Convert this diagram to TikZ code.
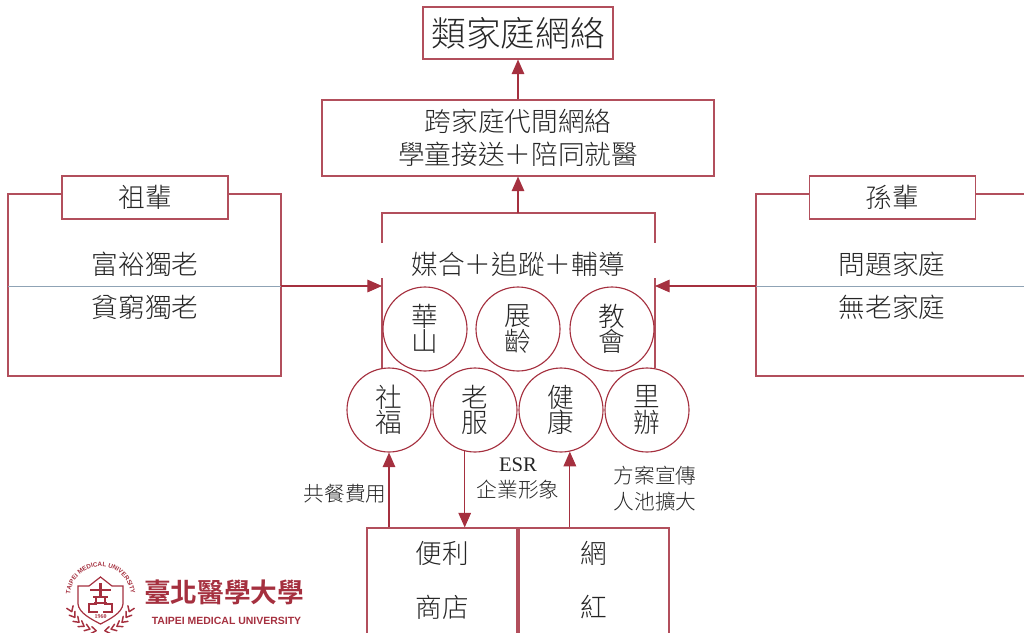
\documentclass[tikz,border=0pt]{standalone}
\usepackage{fontspec}
\usepackage{tikz}
\usetikzlibrary{arrows.meta,decorations.text}
\setmainfont{Noto Sans CJK TC Light}
\newfontfamily\latinfont{Liberation Serif}
\newfontfamily\logofont{Liberation Sans}
\newfontfamily\logocjk{Noto Sans CJK TC Bold}
\definecolor{tmured}{HTML}{A5303F}
\definecolor{rulegray}{HTML}{8FA3B5}
\definecolor{inkgray}{HTML}{262626}

\begin{document}
\begin{tikzpicture}[x=0.75pt, y=-0.75pt,
		box_style/.style={rectangle,draw=tmured!85,fill=white,line width=0.85pt,text=inkgray,inner sep=0pt,align=center},
		circle_style/.style={circle,draw=tmured,fill=white,line width=0.85pt,text=inkgray,minimum size=63pt,inner sep=0pt,align=center,font=\fontsize{20}{20}\selectfont},
		label_style/.style={text=inkgray,inner sep=0pt,align=center,font=\fontsize{20}{20}\selectfont},
		small_style/.style={text=inkgray,inner sep=0pt,align=center,font=\fontsize{15.5}{19.5}\selectfont},
		edge_style/.style={draw=tmured!85,line width=0.85pt},
		arrow_style/.style={draw=tmured,line width=0.85pt,-{Triangle[length=11pt,width=9.5pt]},shorten >=0pt},
		leaf_style/.style={draw=tmured,line width=1.1pt,line cap=round}]

		\useasboundingbox (0,0) rectangle (1024,632);
		\clip (0,0) rectangle (1024,632);

		% top boxes
		\node[box_style,minimum width=142.5pt,minimum height=39pt,font=\fontsize{26}{26}\selectfont] (family) at (518,33) {類家庭網絡};
		\node[box_style,minimum width=294pt,minimum height=57pt,font=\fontsize{20}{25}\selectfont] (kin) at (518,138) {跨家庭代間網絡\\學童接送＋陪同就醫};

		% side panels
		\node[box_style,minimum width=204.75pt,minimum height=136.5pt] (oldbox) at (144.5,285) {};
		\node[box_style,minimum width=124.5pt,minimum height=32.25pt,font=\fontsize{20}{20}\selectfont] (old) at (145,197.5) {祖輩};
		\node[label_style] (rich) at (145,264) {富裕獨老};
		\node[label_style] (poor) at (145,307) {貧窮獨老};
		\node[box_style,minimum width=240pt,minimum height=136.5pt] (youngbox) at (916,285) {};
		\node[box_style,minimum width=124.5pt,minimum height=32.25pt,font=\fontsize{20}{20}\selectfont] (young) at (892.5,197.5) {孫輩};
		\node[label_style] (problem) at (892,264) {問題家庭};
		\node[label_style] (noold) at (892,307) {無老家庭};
		\coordinate (oldleft) at (8,286);
		\coordinate (oldright) at (281,286);
		\coordinate (youngleft) at (756,286);
		\coordinate (youngright) at (1024,286);
		\draw[draw=rulegray,line width=0.7pt] (oldleft) -- (oldright);
		\draw[draw=rulegray,line width=0.7pt] (youngleft) -- (youngright);

		% centre frame
		\coordinate (f0) at (382,243);
		\coordinate (f1) at (382,213);
		\coordinate (f2) at (655,213);
		\coordinate (f3) at (655,243);
		\coordinate (f4) at (382,278);
		\coordinate (f5) at (382,368);
		\coordinate (f6) at (655,278);
		\coordinate (f7) at (655,368);
		\coordinate (ftop) at (518,213);
		\coordinate (fleft) at (382,286);
		\coordinate (fright) at (655,286);
		\draw[edge_style] (f0) -- (f1) -- (f2) -- (f3);
		\draw[edge_style] (f4) -- (f5);
		\draw[edge_style] (f6) -- (f7);
		\node[label_style] (match) at (518,264) {媒合＋追蹤＋輔導};

		% circles
		\node[circle_style] (c1) at (425,329) {華\\[-1pt]山};
		\node[circle_style] (c2) at (518,329) {展\\[-1pt]齡};
		\node[circle_style] (c3) at (612,329) {教\\[-1pt]會};
		\node[circle_style] (d1) at (389,410) {社\\[-1pt]福};
		\node[circle_style] (d2) at (475,410) {老\\[-1pt]服};
		\node[circle_style] (d3) at (561,410) {健\\[-1pt]康};
		\node[circle_style] (d4) at (647,410) {里\\[-1pt]辦};

		% bottom boxes
		\node[box_style,minimum width=112.5pt,minimum height=84pt] (store) at (442,584) {};
		\node[box_style,minimum width=112.5pt,minimum height=84pt] (net) at (594,584) {};
		\node[label_style] (s1) at (442,553) {便利};
		\node[label_style] (s2) at (442,607) {商店};
		\node[label_style] (n1) at (594,553) {網};
		\node[label_style] (n2) at (594,607) {紅};

		% small labels
		\node[small_style] (meal) at (345,494) {共餐費用};
		\node[small_style] (esr) at (518,478) {{\latinfont ESR}\\企業形象};
		\node[small_style] (promo) at (655,489) {方案宣傳\\人池擴大};

		% arrows
		\draw[arrow_style] (kin.north) -- (family.south);
		\draw[arrow_style] (ftop) -- (kin.south);
		\draw[arrow_style] (oldright) -- (fleft);
		\draw[arrow_style] (youngleft) -- (fright);
		\draw[arrow_style] (d1.south |- store.north) -- (d1.south);
		\draw[arrow_style] (d2.256) -- (d2.256 |- store.north);
		\draw[arrow_style] (d3.282 |- net.north) -- (d3.282);

		% logo
		\node[text=tmured,inner sep=0pt,font=\logocjk\fontsize{20}{20}\selectfont] (logoname) at (224,592) {臺北醫學大學};
		\node[text=tmured,inner sep=0pt,font=\logofont\bfseries\fontsize{7.85}{8}\selectfont] (logoeng) at (226.5,621) {TAIPEI MEDICAL UNIVERSITY};
		\path[decorate,decoration={text along path,text align=center,text color=tmured,text={|\logofont\bfseries\fontsize{4.7}{5}\selectfont|TAIPEI MEDICAL UNIVERSITY}}]
			(70.5,602.4) arc[start angle=170,end angle=370,radius=30.5];
		\draw[draw=tmured,line width=0.9pt] (100.5,577) -- (112,586) -- (123,586) -- (123,604) .. controls (122,613) and (110,619) .. (100.5,624) .. controls (91,619) and (79,613) .. (78,604) -- (78,586) -- (89,586) -- cycle;
		\draw[tmured,line width=1.9pt] (100.5,583) -- (100.5,597) (90,590) -- (111,590) (93,597) -- (108,597) (94,603) -- (107,603);
		\draw[tmured,line width=1.9pt] (96,597) -- (96,604) -- (89,604) -- (89,612) -- (98,612) (105,597) -- (105,604) -- (112,604) -- (112,612) -- (103,612);
		\node[text=tmured,inner sep=0pt,font=\latinfont\bfseries\fontsize{4.5}{5}\selectfont] (logoyear) at (100.5,617) {1960};
		\foreach \a in {22,34,46,58,70,82} {
			\draw[leaf_style] (100.5,600) ++(\a:31) -- ++(\a-55:6);
			\draw[leaf_style] (100.5,600) ++(\a:31) -- ++(\a-125:6);
			\draw[leaf_style] (100.5,600) ++(180-\a:31) -- ++(235-\a:6);
			\draw[leaf_style] (100.5,600) ++(180-\a:31) -- ++(305-\a:6);
		}
\end{tikzpicture}
\end{document}
